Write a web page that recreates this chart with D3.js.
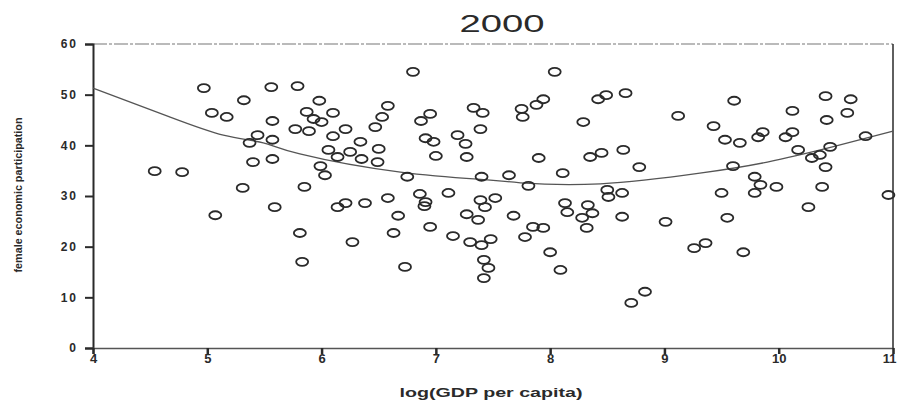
<!DOCTYPE html>
<html>
<head>
<meta charset="utf-8">
<script src="https://cdn.jsdelivr.net/npm/d3@7"></script>
<style>
  body { margin: 0; background: #fff; }
  svg { display: block; font-family: "Liberation Sans", Arial, sans-serif; }
</style>
</head>
<body>
<div id="chart"></div>
<script>
// Chart size
var width = 897;
var height = 401;
var margin = {top: 44, right: 4, bottom: 53, left: 93};

var chartTitle = "2000";
var xLabel = "log(GDP per capita)";
var yLabel = "female economic participation";

var xTicks = [4, 5, 6, 7, 8, 9, 10, 11];
var yTicks = [0, 10, 20, 30, 40, 50, 60];

// log GDP per capita for each country
var gdp = [4.54, 4.78, 4.97, 5.04, 5.17, 5.07, 5.32, 5.56, 5.79, 5.98, 5.87, 6.10, 5.57, 5.93, 6.00,
  5.77, 5.89, 6.21, 6.10, 5.44, 5.37, 5.57, 6.06, 6.14, 5.99, 5.40, 5.57, 6.03, 5.31, 5.85,
  5.59, 6.14, 6.21, 5.81, 6.27, 5.83, 6.25, 6.80, 6.58, 6.53, 6.47, 6.95, 6.87, 7.33, 7.41,
  7.39, 7.19, 7.26, 6.91, 6.98, 7.00, 7.27, 6.34, 6.50, 6.35, 6.49, 6.75, 7.40, 6.86, 6.91,
  6.90, 7.11, 6.58, 6.38, 7.39, 6.67, 7.27, 7.37, 6.95, 6.63, 7.15, 7.30, 7.40, 6.73, 7.42,
  7.46, 7.42, 7.48, 7.43, 8.04, 7.94, 7.88, 7.75, 7.76, 8.49, 8.42, 8.29, 7.90, 8.35, 8.45,
  8.11, 7.64, 7.81, 8.50, 8.51, 7.52, 8.13, 8.15, 8.33, 8.37, 8.28, 7.68, 7.85, 7.94, 8.32,
  7.78, 8.00, 8.09, 8.66, 9.61, 9.12, 9.43, 9.53, 9.66, 8.64, 8.78, 9.60, 8.63, 9.50, 8.63,
  9.01, 9.55, 9.36, 9.26, 9.69, 8.83, 8.71, 10.41, 10.63, 10.60, 10.12, 10.42, 9.86, 9.82, 10.12,
  10.06, 10.76, 10.17, 10.45, 10.36, 10.29, 10.41, 9.79, 9.84, 9.79, 9.98, 10.38, 10.26, 10.96];

// female economic participation for each country
var fep = [34.9, 34.7, 51.3, 46.4, 45.6, 26.2, 48.9, 51.5, 51.7, 48.8, 46.6, 46.4, 44.8, 45.2, 44.6,
  43.2, 42.8, 43.2, 41.8, 42.0, 40.5, 41.1, 39.1, 37.7, 35.9, 36.7, 37.3, 34.1, 31.6, 31.8,
  27.8, 27.8, 28.6, 22.7, 20.9, 17.0, 38.7, 54.5, 47.8, 45.6, 43.6, 46.2, 44.8, 47.4, 46.4,
  43.2, 42.0, 40.3, 41.4, 40.7, 37.9, 37.7, 40.7, 39.3, 37.3, 36.7, 33.8, 33.8, 30.4, 28.8,
  28.0, 30.6, 29.6, 28.6, 29.2, 26.1, 26.4, 25.3, 23.9, 22.7, 22.1, 20.9, 20.3, 16.0, 17.4,
  15.8, 13.8, 21.5, 27.8, 54.5, 49.1, 48.0, 47.2, 45.6, 49.9, 49.1, 44.6, 37.5, 37.7, 38.5,
  34.5, 34.1, 32.0, 31.2, 29.8, 29.6, 28.6, 26.8, 28.2, 26.6, 25.7, 26.1, 23.9, 23.7, 23.7,
  21.9, 18.9, 15.4, 50.3, 48.8, 45.8, 43.8, 41.1, 40.5, 39.1, 35.7, 35.9, 30.6, 30.6, 25.9,
  24.9, 25.7, 20.7, 19.7, 18.9, 11.1, 8.9, 49.7, 49.1, 46.4, 46.8, 45.0, 42.6, 41.6, 42.6,
  41.6, 41.8, 39.1, 39.7, 38.1, 37.5, 35.7, 33.8, 32.2, 30.6, 31.8, 31.8, 27.8, 30.2];

// fitted quadratic curve
var fitX = [4.0, 4.67, 5.14, 5.49, 5.81, 6.69, 7.45, 7.74, 8.44, 9.31, 9.90, 10.47, 11.0];
var fitY = [51.3, 45.6, 42.0, 40.5, 38.3, 34.7, 33.2, 32.6, 32.4, 34.5, 36.7, 39.7, 42.8];

var svg = d3.select("#chart").append("svg")
    .attr("width", width)
    .attr("height", height);

var x = d3.scaleLinear().domain([4, 11]).range([margin.left, width - margin.right]);
var y = d3.scaleLinear().domain([0, 60]).range([height - margin.bottom, margin.top]);

var ink = "#2a2a2a";

// frame: top is a light broken line, right a thin line
svg.append("line")
    .attr("x1", x(4)).attr("x2", x(11))
    .attr("y1", y(60)).attr("y2", y(60))
    .attr("stroke", "#777").attr("stroke-width", 1.2)
    .attr("stroke-dasharray", "14,2,3,2");
svg.append("line")
    .attr("x1", x(11)).attr("x2", x(11))
    .attr("y1", y(60)).attr("y2", y(0))
    .attr("stroke", ink).attr("stroke-width", 1.5);

// left axis
var yAxis = svg.append("g")
    .attr("transform", "translate(" + x(4) + ",0)")
    .call(d3.axisLeft(y).tickValues(yTicks).tickFormat(d3.format("d")).tickSize(8).tickPadding(7));
yAxis.select(".domain").attr("stroke", ink).attr("stroke-width", 2);
yAxis.selectAll(".tick line").attr("stroke", ink).attr("stroke-width", 2);
yAxis.selectAll(".tick text")
    .attr("fill", ink)
    .style("font-size", "12px")
    .style("font-weight", "bold")
    .style("letter-spacing", "2px");

// bottom axis
var xAxis = svg.append("g")
    .attr("transform", "translate(0," + y(0) + ")")
    .call(d3.axisBottom(x).tickValues(xTicks).tickFormat(d3.format("d")).tickSize(6).tickPadding(0));
xAxis.select(".domain").attr("stroke", "#555").attr("stroke-width", 1.4);
xAxis.selectAll(".tick line").attr("stroke", ink).attr("stroke-width", 2.5);
xAxis.selectAll(".tick text")
    .attr("fill", ink)
    .style("font-size", "13px")
    .style("font-weight", "bold");
// keep the last label inside the page
xAxis.selectAll(".tick text")
    .filter(function(d) { return d === 11; })
    .attr("text-anchor", "end")
    .attr("dx", 3);

// fitted curve
var line = d3.line()
    .x(function(d) { return x(d[0]); })
    .y(function(d) { return y(d[1]); })
    .curve(d3.curveNatural);

svg.append("path")
    .datum(d3.zip(fitX, fitY))
    .attr("d", line)
    .attr("fill", "none")
    .attr("stroke", "#555")
    .attr("stroke-width", 1.3);

// points
svg.append("g").selectAll("ellipse")
    .data(d3.zip(gdp, fep))
    .enter().append("ellipse")
    .attr("cx", function(d) { return x(d[0]); })
    .attr("cy", function(d) { return y(d[1]); })
    .attr("rx", 6)
    .attr("ry", 4)
    .attr("fill", "none")
    .attr("stroke", ink)
    .attr("stroke-width", 1.8);

// title
svg.append("text")
    .attr("x", 502)
    .attr("y", 32)
    .attr("text-anchor", "middle")
    .attr("fill", ink)
    .style("font-size", "23px")
    .attr("textLength", 85)
    .attr("lengthAdjust", "spacingAndGlyphs")
    .text(chartTitle);

// axis labels
svg.append("text")
    .attr("x", 491)
    .attr("y", 397)
    .attr("text-anchor", "middle")
    .attr("fill", ink)
    .style("font-size", "12px")
    .style("font-weight", "bold")
    .attr("textLength", 183)
    .attr("lengthAdjust", "spacingAndGlyphs")
    .text(xLabel);

svg.append("text")
    .attr("transform", "translate(22,195) rotate(-90)")
    .attr("text-anchor", "middle")
    .attr("fill", ink)
    .style("font-size", "10px")
    .style("font-weight", "bold")
    .attr("textLength", 155)
    .attr("lengthAdjust", "spacingAndGlyphs")
    .text(yLabel);
</script>
</body>
</html>
